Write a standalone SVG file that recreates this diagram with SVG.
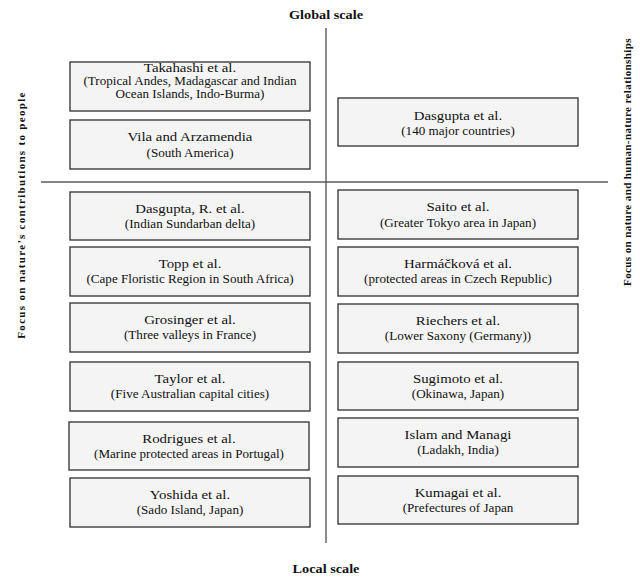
<svg xmlns="http://www.w3.org/2000/svg" width="640" height="577" viewBox="0 0 640 577">
<style>
  .box { fill: #f3f4f3; stroke: #3c3c3c; stroke-width: 1.4; }
  .ax { stroke: #5a5a5a; stroke-width: 1.4; fill: none; }
  text { font-family: "Liberation Serif", "Times New Roman", serif; fill: #111; text-anchor: middle; }
  .t { font-size: 13px; }
  .s { font-size: 11.5px; }
  .lab { font-size: 12.5px; font-weight: bold; }
  .side { font-size: 11px; font-weight: bold; }
</style>
<rect width="640" height="577" fill="#ffffff"/>

<g id="connectors">
  <line class="ax" x1="326" y1="28" x2="326" y2="543"/>
  <line class="ax" x1="41" y1="182" x2="608" y2="182"/>
</g>

<g id="axis-labels">
  <g transform="translate(326,19) scale(1.14,1)"><text class="lab" x="0" y="0">Global scale</text></g>
  <g transform="translate(326,573) scale(1.14,1)"><text class="lab" x="0" y="0">Local scale</text></g>
  <text class="side" transform="translate(25,215) rotate(-90)" x="0" y="0" font-size="11.5" letter-spacing="1.3">Focus on nature’s contributions to people</text>
  <text class="side" transform="translate(631,162) rotate(-90)" x="0" y="0" letter-spacing="0.4">Focus on nature and human-nature relationships</text>
</g>

<g id="takahashi">
  <rect class="box" x="70" y="62" width="240" height="49"/>
  <g transform="translate(190,0) scale(1.14,1)">
    <text class="t" x="0" y="72">Takahashi et al.</text>
    <text class="s" x="0" y="85.5">(Tropical Andes, Madagascar and Indian</text>
    <text class="s" x="0" y="98.5">Ocean Islands, Indo-Burma)</text>
  </g>
</g>
<g id="vila">
  <rect class="box" x="70" y="120" width="240" height="49"/>
  <g transform="translate(190,0) scale(1.14,1)">
    <text class="t" x="0" y="141.5">Vila and Arzamendia</text>
    <text class="s" x="0" y="157">(South America)</text>
  </g>
</g>
<g id="dasgupta-r">
  <rect class="box" x="70" y="192" width="240" height="48"/>
  <g transform="translate(190,0) scale(1.14,1)">
    <text class="t" x="0" y="213">Dasgupta, R. et al.</text>
    <text class="s" x="0" y="228.5">(Indian Sundarban delta)</text>
  </g>
</g>
<g id="topp">
  <rect class="box" x="70" y="247" width="240" height="49"/>
  <g transform="translate(190,0) scale(1.14,1)">
    <text class="t" x="0" y="268">Topp et al.</text>
    <text class="s" x="0" y="283.5">(Cape Floristic Region in South Africa)</text>
  </g>
</g>
<g id="grosinger">
  <rect class="box" x="70" y="303" width="240" height="49"/>
  <g transform="translate(190,0) scale(1.14,1)">
    <text class="t" x="0" y="324">Grosinger et al.</text>
    <text class="s" x="0" y="339.5">(Three valleys in France)</text>
  </g>
</g>
<g id="taylor">
  <rect class="box" x="70" y="362" width="240" height="49"/>
  <g transform="translate(190,0) scale(1.14,1)">
    <text class="t" x="0" y="383">Taylor et al.</text>
    <text class="s" x="0" y="398.5">(Five Australian capital cities)</text>
  </g>
</g>
<g id="rodrigues">
  <rect class="box" x="69" y="422" width="240" height="48"/>
  <g transform="translate(189,0) scale(1.14,1)">
    <text class="t" x="0" y="443">Rodrigues et al.</text>
    <text class="s" x="0" y="458.5">(Marine protected areas in Portugal)</text>
  </g>
</g>
<g id="yoshida">
  <rect class="box" x="70" y="478" width="240" height="49"/>
  <g transform="translate(190,0) scale(1.14,1)">
    <text class="t" x="0" y="499">Yoshida et al.</text>
    <text class="s" x="0" y="514.5">(Sado Island, Japan)</text>
  </g>
</g>

<g id="dasgupta">
  <rect class="box" x="338" y="98" width="240" height="48"/>
  <g transform="translate(458,0) scale(1.14,1)">
    <text class="t" x="0" y="120">Dasgupta et al.</text>
    <text class="s" x="0" y="135">(140 major countries)</text>
  </g>
</g>
<g id="saito">
  <rect class="box" x="338" y="190" width="240" height="49"/>
  <g transform="translate(458,0) scale(1.14,1)">
    <text class="t" x="0" y="211.5">Saito et al.</text>
    <text class="s" x="0" y="227">(Greater Tokyo area in Japan)</text>
  </g>
</g>
<g id="harmackova">
  <rect class="box" x="338" y="247" width="240" height="49"/>
  <g transform="translate(458,0) scale(1.14,1)">
    <text class="t" x="0" y="268">Harmáčková et al.</text>
    <text class="s" x="0" y="283.5">(protected areas in Czech Republic)</text>
  </g>
</g>
<g id="riechers">
  <rect class="box" x="338" y="304" width="240" height="49"/>
  <g transform="translate(458,0) scale(1.14,1)">
    <text class="t" x="0" y="325">Riechers et al.</text>
    <text class="s" x="0" y="340.5">(Lower Saxony (Germany))</text>
  </g>
</g>
<g id="sugimoto">
  <rect class="box" x="338" y="362" width="240" height="48"/>
  <g transform="translate(458,0) scale(1.14,1)">
    <text class="t" x="0" y="383">Sugimoto et al.</text>
    <text class="s" x="0" y="398.5">(Okinawa, Japan)</text>
  </g>
</g>
<g id="islam">
  <rect class="box" x="338" y="418" width="240" height="49"/>
  <g transform="translate(458,0) scale(1.14,1)">
    <text class="t" x="0" y="439">Islam and Managi</text>
    <text class="s" x="0" y="454.5">(Ladakh, India)</text>
  </g>
</g>
<g id="kumagai">
  <rect class="box" x="338" y="476" width="240" height="48"/>
  <g transform="translate(458,0) scale(1.14,1)">
    <text class="t" x="0" y="497">Kumagai et al.</text>
    <text class="s" x="0" y="512.5">(Prefectures of Japan</text>
  </g>
</g>
</svg>
